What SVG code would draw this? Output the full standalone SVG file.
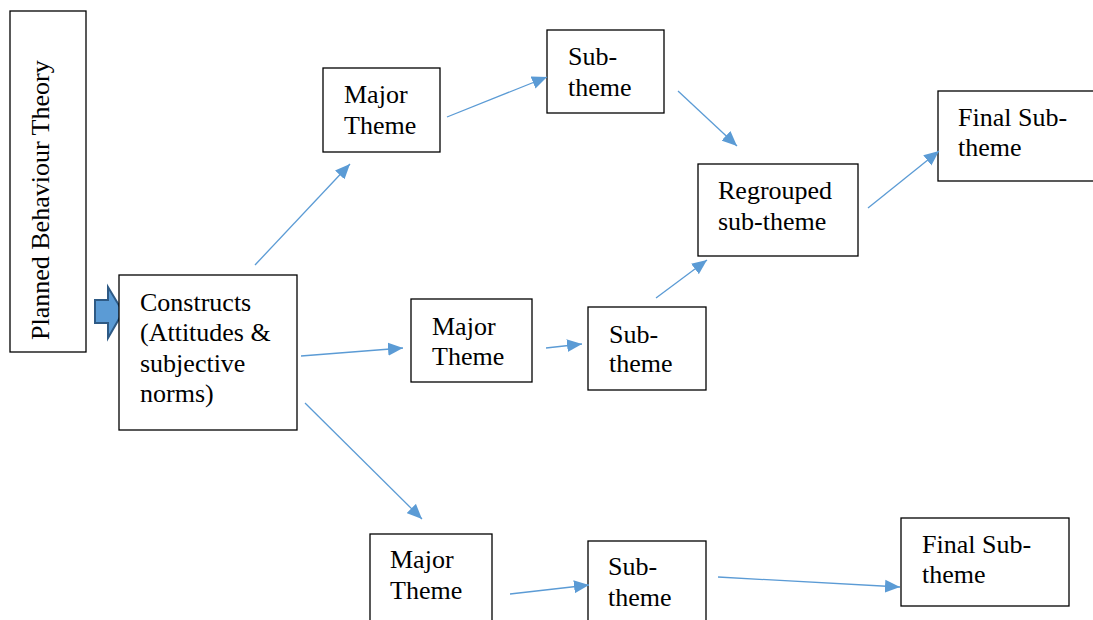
<svg xmlns="http://www.w3.org/2000/svg" width="1093" height="620" viewBox="0 0 1093 620">
<style>
.nodebox{fill:#fff;stroke:#000;stroke-width:1.3}
.conn{stroke:#5B9BD5;stroke-width:1.3;fill:none}
</style>
<defs>
<marker id="ah" markerUnits="userSpaceOnUse" markerWidth="16" markerHeight="14" refX="15" refY="7" orient="auto" viewBox="0 0 16 14">
<path d="M0,0.5 L15,7 L0,13.5 z" fill="#5B9BD5"/>
</marker>
</defs>
<rect width="1093" height="620" fill="#fff"/>
<g id="pbt">
<rect class="nodebox" x="10" y="11" width="76" height="341"/>
<text x="0" y="0" font-family="Liberation Serif" font-size="26" transform="translate(49,340) rotate(-90)">Planned Behaviour Theory</text>
</g>
<g id="block-arrow">
<path d="M95,300 L108,300 L108,287 L123,312 L108,338 L108,323 L95,323 z" fill="#5B9BD5" stroke="#2E5A85" stroke-width="2"/>
</g>
<g id="constructs">
<rect class="nodebox" x="119" y="275" width="178" height="155"/>
<text x="140" y="311" font-family="Liberation Serif" font-size="26">Constructs</text>
<text x="140" y="341" font-family="Liberation Serif" font-size="26">(Attitudes &amp;</text>
<text x="140" y="372" font-family="Liberation Serif" font-size="26">subjective</text>
<text x="140" y="402" font-family="Liberation Serif" font-size="26">norms)</text>
</g>
<g id="major1">
<rect class="nodebox" x="323" y="68" width="117" height="84"/>
<text x="344" y="103" font-family="Liberation Serif" font-size="26">Major</text>
<text x="344" y="134" font-family="Liberation Serif" font-size="26">Theme</text>
</g>
<g id="sub1">
<rect class="nodebox" x="547" y="30" width="117" height="83"/>
<text x="568" y="65" font-family="Liberation Serif" font-size="26">Sub-</text>
<text x="568" y="96" font-family="Liberation Serif" font-size="26">theme</text>
</g>
<g id="regrouped">
<rect class="nodebox" x="698" y="164" width="160" height="92"/>
<text x="718" y="199" font-family="Liberation Serif" font-size="26">Regrouped</text>
<text x="718" y="230" font-family="Liberation Serif" font-size="26">sub-theme</text>
</g>
<g id="final1">
<rect class="nodebox" x="938" y="91" width="160" height="90"/>
<text x="958" y="126" font-family="Liberation Serif" font-size="26">Final Sub-</text>
<text x="958" y="156" font-family="Liberation Serif" font-size="26">theme</text>
</g>
<g id="major2">
<rect class="nodebox" x="411" y="299" width="121" height="83"/>
<text x="432" y="335" font-family="Liberation Serif" font-size="26">Major</text>
<text x="432" y="365" font-family="Liberation Serif" font-size="26">Theme</text>
</g>
<g id="sub2">
<rect class="nodebox" x="588" y="307" width="118" height="83"/>
<text x="609" y="343" font-family="Liberation Serif" font-size="26">Sub-</text>
<text x="609" y="372" font-family="Liberation Serif" font-size="26">theme</text>
</g>
<g id="major3">
<rect class="nodebox" x="370" y="534" width="122" height="100"/>
<text x="390" y="568" font-family="Liberation Serif" font-size="26">Major</text>
<text x="390" y="599" font-family="Liberation Serif" font-size="26">Theme</text>
</g>
<g id="sub3">
<rect class="nodebox" x="588" y="541" width="118" height="100"/>
<text x="608" y="575" font-family="Liberation Serif" font-size="26">Sub-</text>
<text x="608" y="606" font-family="Liberation Serif" font-size="26">theme</text>
</g>
<g id="final2">
<rect class="nodebox" x="901" y="518" width="168" height="88"/>
<text x="922" y="553" font-family="Liberation Serif" font-size="26">Final Sub-</text>
<text x="922" y="583" font-family="Liberation Serif" font-size="26">theme</text>
</g>
<g id="connectors">
<line class="conn" marker-end="url(#ah)" x1="255" y1="265" x2="350" y2="164"/>
<line class="conn" marker-end="url(#ah)" x1="447" y1="117" x2="547" y2="77"/>
<line class="conn" marker-end="url(#ah)" x1="678" y1="91" x2="737" y2="146"/>
<line class="conn" marker-end="url(#ah)" x1="868" y1="208" x2="939" y2="151"/>
<line class="conn" marker-end="url(#ah)" x1="656" y1="298" x2="707" y2="260"/>
<line class="conn" marker-end="url(#ah)" x1="301" y1="356" x2="403" y2="348"/>
<line class="conn" marker-end="url(#ah)" x1="546" y1="348" x2="582" y2="344"/>
<line class="conn" marker-end="url(#ah)" x1="305" y1="403" x2="422" y2="519"/>
<line class="conn" marker-end="url(#ah)" x1="510" y1="594" x2="589" y2="585"/>
<line class="conn" marker-end="url(#ah)" x1="718" y1="577" x2="900" y2="587"/>
</g>
</svg>
